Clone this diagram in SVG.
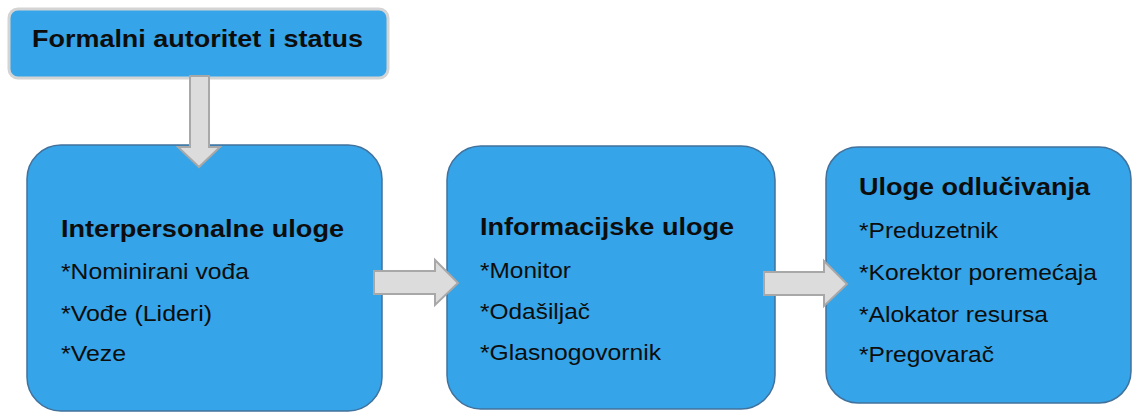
<svg xmlns="http://www.w3.org/2000/svg" width="1134" height="413" viewBox="0 0 1134 413">
  <style>
    .box { fill: #35a4e8; stroke: #41719c; stroke-width: 1.5; }
    .top { fill: #35a4e8; stroke: #d4d4d4; stroke-width: 3; }
    .arrow { fill: #dcdcdc; stroke: #a8a8a8; stroke-width: 2; stroke-linejoin: miter; }
    .h { font-family: "Liberation Sans", Arial, sans-serif; font-weight: bold; font-size: 23px; fill: #0d0d0d; }
    .t { font-family: "Liberation Sans", Arial, sans-serif; font-size: 22px; fill: #0d0d0d; }
  </style>
  <rect width="1134" height="413" fill="#ffffff"/>

  <g id="formalni-autoritet">
    <rect class="top" x="9" y="9" width="379" height="69" rx="9"/>
    <text class="h" x="32" y="47" textLength="331" lengthAdjust="spacingAndGlyphs">Formalni autoritet i status</text>
  </g>

  <g id="interpersonalne-uloge">
    <rect class="box" x="27" y="145" width="355" height="266" rx="34"/>
    <text class="h" x="61" y="237" textLength="283" lengthAdjust="spacingAndGlyphs">Interpersonalne uloge</text>
    <text class="t" x="61" y="279" textLength="188" lengthAdjust="spacingAndGlyphs">*Nominirani vođa</text>
    <text class="t" x="61" y="321" textLength="151" lengthAdjust="spacingAndGlyphs">*Vođe (Lideri)</text>
    <text class="t" x="61" y="361" textLength="65" lengthAdjust="spacingAndGlyphs">*Veze</text>
  </g>

  <g id="informacijske-uloge">
    <rect class="box" x="447" y="146" width="328" height="263" rx="34"/>
    <text class="h" x="480" y="235" textLength="254" lengthAdjust="spacingAndGlyphs">Informacijske uloge</text>
    <text class="t" x="480" y="278" textLength="91" lengthAdjust="spacingAndGlyphs">*Monitor</text>
    <text class="t" x="480" y="319" textLength="110" lengthAdjust="spacingAndGlyphs">*Odašiljač</text>
    <text class="t" x="480" y="360" textLength="181" lengthAdjust="spacingAndGlyphs">*Glasnogovornik</text>
  </g>

  <g id="uloge-odlucivanja">
    <rect class="box" x="826" y="147" width="305" height="256" rx="32"/>
    <text class="h" x="859" y="195" textLength="231" lengthAdjust="spacingAndGlyphs">Uloge odlučivanja</text>
    <text class="t" x="859" y="238" textLength="139" lengthAdjust="spacingAndGlyphs">*Preduzetnik</text>
    <text class="t" x="859" y="280" textLength="238" lengthAdjust="spacingAndGlyphs">*Korektor poremećaja</text>
    <text class="t" x="859" y="322" textLength="189" lengthAdjust="spacingAndGlyphs">*Alokator resursa</text>
    <text class="t" x="859" y="362" textLength="135" lengthAdjust="spacingAndGlyphs">*Pregovarač</text>
  </g>

  <!-- block arrows between the role boxes -->
  <g id="connectors">
    <path class="arrow" d="M190,76 H209 V147 H220 L199,167 L178,147 H190 Z"/>
    <path class="arrow" d="M374,271 H435 V260 L458,283 L435,305 V294 H374 Z"/>
    <path class="arrow" d="M764,272 H824 V261 L847,284 L824,306 V295 H764 Z"/>
  </g>
</svg>
